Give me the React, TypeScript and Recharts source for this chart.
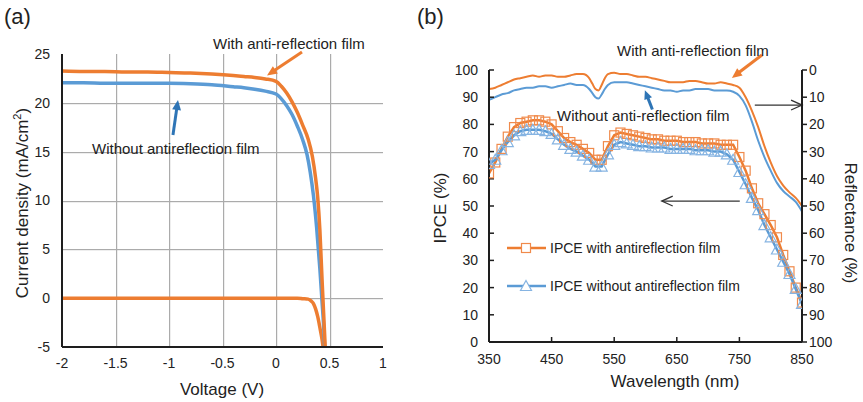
import React from "react";
import { LineChart, Line, XAxis, YAxis, ReferenceLine } from "recharts";

const FONT = '"Liberation Sans", Arial, sans-serif';
const ORANGE = "#ED7D31";
const BLUE = "#5B9BD5";
const ORANGE_MK = "#F08A4B";
const BLUE_MK = "#86B4E2";
const AXIS = "#1e1e1e";
const GRID = "#ababab";

// ---- panel (a): J-V curves ----
const voltageTicks = [-2, -1.5, -1, -0.5, 0, 0.5, 1];
const currentTicks = [-5, 0, 5, 10, 15, 20, 25];

const vWith = [-2, -1.8, -1.6, -1.4, -1.2, -1.0, -0.8, -0.6, -0.4, -0.3, -0.2, -0.1, 0, 0.05, 0.1, 0.15, 0.2, 0.25, 0.3, 0.34, 0.37, 0.39, 0.41, 0.43, 0.445, 0.46];
const jWith = [23.25, 23.2, 23.2, 23.15, 23.15, 23.1, 23.05, 22.95, 22.8, 22.7, 22.6, 22.45, 22.2, 21.7, 21.0, 20.1, 19.0, 17.7, 16.3, 14.5, 12.3, 10.3, 7.0, 2.0, -1.5, -5];

const vWithout = [-2, -1.8, -1.6, -1.4, -1.2, -1.0, -0.8, -0.6, -0.4, -0.3, -0.2, -0.1, 0, 0.05, 0.1, 0.15, 0.2, 0.25, 0.29, 0.32, 0.35, 0.38, 0.41, 0.43, 0.445, 0.455];
const jWithout = [22.05, 22.05, 22.0, 22.0, 22.0, 22.0, 21.95, 21.85, 21.65, 21.55, 21.4, 21.2, 20.9, 20.4, 19.7, 18.8, 17.6, 16.2, 14.7, 12.9, 10.5, 7.2, 3.0, -0.3, -2.8, -5];

const vDark = [-2, -1, 0, 0.2, 0.25, 0.3, 0.33, 0.35, 0.37, 0.39, 0.41, 0.43, 0.44];
const jDark = [0, 0, 0, 0, -0.05, -0.1, -0.3, -0.55, -1.1, -1.9, -3.0, -4.2, -5];

// ---- panel (b): IPCE and reflectance ----
const wlTicks = [350, 450, 550, 650, 750, 850];
const pctTicks = [0, 10, 20, 30, 40, 50, 60, 70, 80, 90, 100];

const ipceWl = [350, 360, 370, 380, 390, 400, 410, 420, 430, 440, 450, 460, 470, 480, 490, 500, 510, 520, 530, 540, 550, 560, 570, 580, 590, 600, 610, 620, 630, 640, 650, 660, 670, 680, 690, 700, 710, 720, 730, 740, 750, 760, 770, 780, 790, 800, 810, 820, 830, 840, 850];
const ipceWith = [62, 66, 71, 75.5, 79, 80.5, 81, 81.5, 81.5, 81, 80, 77.5, 75, 73.5, 72.5, 71, 69.5, 67, 67, 72, 76, 77, 76.5, 76, 75.5, 75, 74.5, 74.5, 74, 74, 74, 73.5, 73.5, 73.5, 73, 73, 73, 72.5, 72.5, 72.5, 68, 63, 56.5, 51, 47, 43, 38.5, 32, 26, 20, 14.5];
const ipceWithout = [65.5, 67, 70.5, 73.5, 76, 77.5, 78, 78, 78, 77.5, 76.5, 74.5, 72.5, 71, 70, 68.5, 67, 64.5, 64.5, 69, 72.5, 73.5, 73, 72.5, 72, 72, 71.5, 71.5, 71.5, 71, 71, 71, 71, 70.5, 70.5, 70.5, 70, 70, 69, 67, 62.5, 58, 53, 48.5, 43, 38.5, 34, 29.5, 25, 19.5, 14];

const reflWl = [350, 360, 370, 380, 390, 400, 410, 420, 430, 440, 450, 460, 470, 480, 490, 500, 510, 515, 520, 525, 530, 535, 540, 550, 560, 570, 580, 590, 600, 610, 620, 630, 640, 650, 660, 670, 680, 690, 700, 710, 720, 730, 740, 750, 760, 770, 780, 790, 800, 810, 820, 830, 840, 850];
const reflWith = [7, 6.5, 5.5, 4.5, 3.5, 3, 2.5, 2, 2.5, 2, 2, 2.5, 2.5, 2, 1.5, 1.5, 3, 5, 7, 7.5, 5.5, 3, 1.5, 1, 1.5, 1.5, 2, 2.5, 2.5, 3, 3.5, 4, 4.5, 4.5, 4.5, 4, 4, 4.5, 5, 5, 4.5, 5, 5.5, 6.5, 10, 15, 21, 28, 34, 39, 42.5, 45, 47, 50];
const reflWithout = [11, 10, 9, 8.5, 7.5, 7, 6.5, 6.5, 6, 6, 6.5, 6, 5.5, 5, 5.5, 5.5, 7, 8.5, 10, 10.5, 9, 7, 5.5, 4.5, 4.5, 4.5, 5, 5.5, 6, 6.5, 7, 7.5, 7.5, 8, 7.5, 7.5, 7, 7, 7, 7.5, 7.5, 7.5, 8, 9.5, 13, 19, 26, 32, 37, 41.5, 44.5, 46.5, 48.5, 52];

const jvPoints = (vs: number[], js: number[]) => vs.map((v, i) => ({ v, j: js[i] }));
const wlPoints = (ws: number[], ys: number[]) => ws.map((wl, i) => ({ wl, y: ys[i] }));

const tickStyle = { fill: "#222", fontSize: 14, fontFamily: FONT };

const arrowShape = (color: string, width: number, head: number, open: boolean) => (p: any) => {
  const { x1, y1, x2, y2 } = p;
  const ang = Math.atan2(y2 - y1, x2 - x1);
  const a1 = ang + Math.PI - 0.42;
  const a2 = ang + Math.PI + 0.42;
  const hx1 = x2 + head * Math.cos(a1);
  const hy1 = y2 + head * Math.sin(a1);
  const hx2 = x2 + head * Math.cos(a2);
  const hy2 = y2 + head * Math.sin(a2);
  if (open) {
    return (
      <g>
        <line x1={x1} y1={y1} x2={x2} y2={y2} stroke={color} strokeWidth={width} />
        <polyline points={`${hx1},${hy1} ${x2},${y2} ${hx2},${hy2}`} fill="none" stroke={color} strokeWidth={width} />
      </g>
    );
  }
  const bx = x2 - head * 0.8 * Math.cos(ang);
  const by = y2 - head * 0.8 * Math.sin(ang);
  return (
    <g>
      <line x1={x1} y1={y1} x2={bx} y2={by} stroke={color} strokeWidth={width} />
      <polygon points={`${hx1},${hy1} ${x2},${y2} ${hx2},${hy2}`} fill={color} />
    </g>
  );
};

// grid lines drawn as thin filled rects snapped to whole pixels
const gridShape = (p: any) => {
  const vertical = Math.abs(p.x1 - p.x2) < Math.abs(p.y1 - p.y2);
  if (vertical) {
    const x = Math.round(p.x1);
    return (
      <g>
        <rect x={x} y={Math.min(p.y1, p.y2)} width={1.2} height={Math.abs(p.y2 - p.y1)} fill={GRID} />
      </g>
    );
  }
  const y = Math.round(p.y1);
  return (
    <g>
      <rect x={Math.min(p.x1, p.x2)} y={y} width={Math.abs(p.x2 - p.x1)} height={1.2} fill={GRID} />
    </g>
  );
};

const squareDot = (p: any) => {
  if (p.cx == null || p.cy == null) return <g key={p.index} />;
  return <rect key={p.index} x={p.cx - 4.5} y={p.cy - 4.5} width={9} height={9} fill="none" stroke={ORANGE_MK} strokeWidth={1.2} />;
};

const triangleDot = (p: any) => {
  if (p.cx == null || p.cy == null) return <g key={p.index} />;
  const { cx, cy } = p;
  return <polygon key={p.index} points={`${cx},${cy - 5.5} ${cx + 5.5},${cy + 4.5} ${cx - 5.5},${cy + 4.5}`} fill="none" stroke={BLUE_MK} strokeWidth={1.2} />;
};

const vMin = voltageTicks[0];
const vMax = voltageTicks[voltageTicks.length - 1];
const jMin = currentTicks[0];
const jMax = currentTicks[currentTicks.length - 1];

function PanelA() {
  return (
    <LineChart width={400} height={402} margin={{ top: 54, right: 17, bottom: 0, left: 0 }}>
      <XAxis type="number" dataKey="v" domain={[vMin, vMax]} ticks={voltageTicks} allowDataOverflow height={55}
        tickLine={false} tickMargin={5} axisLine={{ stroke: AXIS, strokeWidth: 2 }} tick={tickStyle} />
      <XAxis xAxisId="top" orientation="top" type="number" domain={[vMin, vMax]} height={0}
        tick={false} tickLine={false} axisLine={{ stroke: AXIS, strokeWidth: 2 }} />
      <YAxis type="number" domain={[jMin, jMax]} ticks={currentTicks} allowDataOverflow width={62}
        tickLine={false} tickMargin={6} axisLine={{ stroke: AXIS, strokeWidth: 2 }} tick={tickStyle} />
      <YAxis yAxisId="right" orientation="right" type="number" domain={[jMin, jMax]} width={0}
        tick={false} tickLine={false} axisLine={{ stroke: AXIS, strokeWidth: 2 }} />
      {currentTicks.slice(1, -1).map((j) => (
        <ReferenceLine key={`gy${j}`} segment={[{ x: vMin, y: j }, { x: vMax, y: j }]} ifOverflow="visible" shape={gridShape} />
      ))}
      {voltageTicks.slice(1, -1).map((v) => (
        <ReferenceLine key={`gx${v}`} segment={[{ x: v, y: jMin }, { x: v, y: jMax }]} ifOverflow="visible" shape={gridShape} />
      ))}
      <Line data={jvPoints(vDark, jDark)} dataKey="j" type="monotone" stroke={ORANGE} strokeWidth={3.5} dot={false} isAnimationActive={false} />
      <Line data={jvPoints(vWithout, jWithout)} dataKey="j" type="monotone" stroke={BLUE} strokeWidth={3.5} dot={false} isAnimationActive={false} />
      <Line data={jvPoints(vWith, jWith)} dataKey="j" type="monotone" stroke={ORANGE} strokeWidth={3.5} dot={false} isAnimationActive={false} />
      <ReferenceLine segment={[{ x: 0.243, y: 25.2 }, { x: -0.084, y: 22.8 }]} ifOverflow="visible" shape={arrowShape(ORANGE, 3, 11, false)} />
      <ReferenceLine segment={[{ x: -0.963, y: 16.7 }, { x: -0.916, y: 20.3 }]} ifOverflow="visible" shape={arrowShape("#2E75B6", 3, 11, false)} />
    </LineChart>
  );
}

function PanelB() {
  return (
    <LineChart width={433} height={402} margin={{ top: 70, right: 0, bottom: 0, left: 0 }}>
      <XAxis type="number" dataKey="wl" domain={[350, 850]} ticks={wlTicks} allowDataOverflow height={60}
        tickSize={-5} tickMargin={17} tickLine={{ stroke: AXIS, strokeWidth: 1.5 }} axisLine={{ stroke: AXIS, strokeWidth: 2 }} tick={tickStyle} />
      <XAxis xAxisId="top" orientation="top" type="number" domain={[350, 850]} height={0}
        tick={false} tickLine={false} axisLine={{ stroke: AXIS, strokeWidth: 2 }} />
      <YAxis yAxisId="l" type="number" domain={[0, 100]} ticks={pctTicks} allowDataOverflow width={59}
        tickSize={-5} tickMargin={16} tickLine={{ stroke: AXIS, strokeWidth: 1.5 }} axisLine={{ stroke: AXIS, strokeWidth: 2 }} tick={tickStyle} />
      <YAxis yAxisId="r" orientation="right" type="number" domain={[0, 100]} ticks={pctTicks} reversed allowDataOverflow width={61}
        tickSize={5} tickMargin={2} tickLine={{ stroke: AXIS, strokeWidth: 1.5 }} axisLine={{ stroke: AXIS, strokeWidth: 2 }} tick={{ ...tickStyle, textAnchor: "start" }} />
      <Line yAxisId="r" data={wlPoints(reflWl, reflWith)} dataKey="y" type="monotone" stroke={ORANGE} strokeWidth={2} dot={false} isAnimationActive={false} />
      <Line yAxisId="r" data={wlPoints(reflWl, reflWithout)} dataKey="y" type="monotone" stroke={BLUE} strokeWidth={2} dot={false} isAnimationActive={false} />
      <Line yAxisId="l" data={wlPoints(ipceWl, ipceWith)} dataKey="y" type="linear" stroke={ORANGE} strokeWidth={2.5} dot={squareDot} isAnimationActive={false} />
      <Line yAxisId="l" data={wlPoints(ipceWl, ipceWithout)} dataKey="y" type="linear" stroke={BLUE} strokeWidth={2.5} dot={triangleDot} isAnimationActive={false} />
      <ReferenceLine yAxisId="l" segment={[{ x: 786, y: 105.5 }, { x: 738, y: 97.1 }]} ifOverflow="visible" shape={arrowShape(ORANGE, 3, 11, false)} />
      <ReferenceLine yAxisId="l" segment={[{ x: 611, y: 85.5 }, { x: 599, y: 92.6 }]} ifOverflow="visible" shape={arrowShape("#2E75B6", 3, 10, false)} />
      <ReferenceLine yAxisId="l" segment={[{ x: 774.6, y: 87.1 }, { x: 850, y: 87.1 }]} ifOverflow="visible" shape={arrowShape("#333", 1.3, 12, true)} />
      <ReferenceLine yAxisId="l" segment={[{ x: 750.6, y: 51.8 }, { x: 626, y: 51.8 }]} ifOverflow="visible" shape={arrowShape("#333", 1.3, 12, true)} />
    </LineChart>
  );
}

const legendItems = [
  { name: "IPCE with antireflection film", color: ORANGE, marker: "square" },
  { name: "IPCE without antireflection film", color: BLUE, marker: "triangle" },
];

function LegendB() {
  return (
    <div style={{ position: "absolute", left: 506, top: 238 }}>
      {legendItems.map((it) => (
        <div key={it.name} style={{ display: "flex", alignItems: "center", height: 20, marginBottom: 18 }}>
          <svg width={42} height={16}>
            <line x1={1} y1={8} x2={40} y2={8} stroke={it.color} strokeWidth={2.5} />
            {it.marker === "square" ? (
              <rect x={15.5} y={3.5} width={9} height={9} fill="#fff" stroke={ORANGE_MK} strokeWidth={1.2} />
            ) : (
              <polygon points="20,2.5 25.5,12.5 14.5,12.5" fill="#fff" stroke={BLUE_MK} strokeWidth={1.2} />
            )}
          </svg>
          <span style={{ fontSize: 14, color: "#222", marginLeft: 2 }}>{it.name}</span>
        </div>
      ))}
    </div>
  );
}

const txt = (s: React.CSSProperties): React.CSSProperties => ({ position: "absolute", whiteSpace: "nowrap", color: "#222", ...s });

export default function App() {
  return (
    <div style={{ position: "absolute", left: 0, top: 0, width: 863, height: 402, background: "#fff", fontFamily: FONT, overflow: "hidden" }}>
      <div style={{ position: "absolute", left: 0, top: 0 }}>
        <PanelA />
      </div>
      <div style={{ position: "absolute", left: 430, top: 0 }}>
        <PanelB />
      </div>
      <div style={txt({ left: 4, top: 4, fontSize: 22 })}>(a)</div>
      <div style={txt({ left: 417, top: 4, fontSize: 22 })}>(b)</div>
      <div style={txt({ left: 22, top: 203, fontSize: 17, transform: "translate(-50%, -50%) rotate(-90deg)" })}>
        Current density (mA/cm<sup style={{ fontSize: 11 }}>2</sup>)
      </div>
      <div style={txt({ left: 222, top: 390, fontSize: 17, transform: "translate(-50%, -50%)" })}>Voltage (V)</div>
      <div style={txt({ left: 213, top: 43, fontSize: 15, transform: "translateY(-50%)" })}>With anti-reflection film</div>
      <div style={txt({ left: 92, top: 148, fontSize: 15, transform: "translateY(-50%)" })}>Without antireflection film</div>
      <div style={txt({ left: 617, top: 50, fontSize: 15, transform: "translateY(-50%)" })}>With anti-reflection film</div>
      <div style={txt({ left: 557, top: 115, fontSize: 15, transform: "translateY(-50%)" })}>Without anti-reflection film</div>
      <div style={txt({ left: 441, top: 208, fontSize: 17, transform: "translate(-50%, -50%) rotate(-90deg)" })}>IPCE (%)</div>
      <div style={txt({ left: 850, top: 223, fontSize: 17, transform: "translate(-50%, -50%) rotate(90deg)" })}>Reflectance (%)</div>
      <div style={txt({ left: 675, top: 382, fontSize: 17, transform: "translate(-50%, -50%)" })}>Wavelength (nm)</div>
      <LegendB />
    </div>
  );
}
